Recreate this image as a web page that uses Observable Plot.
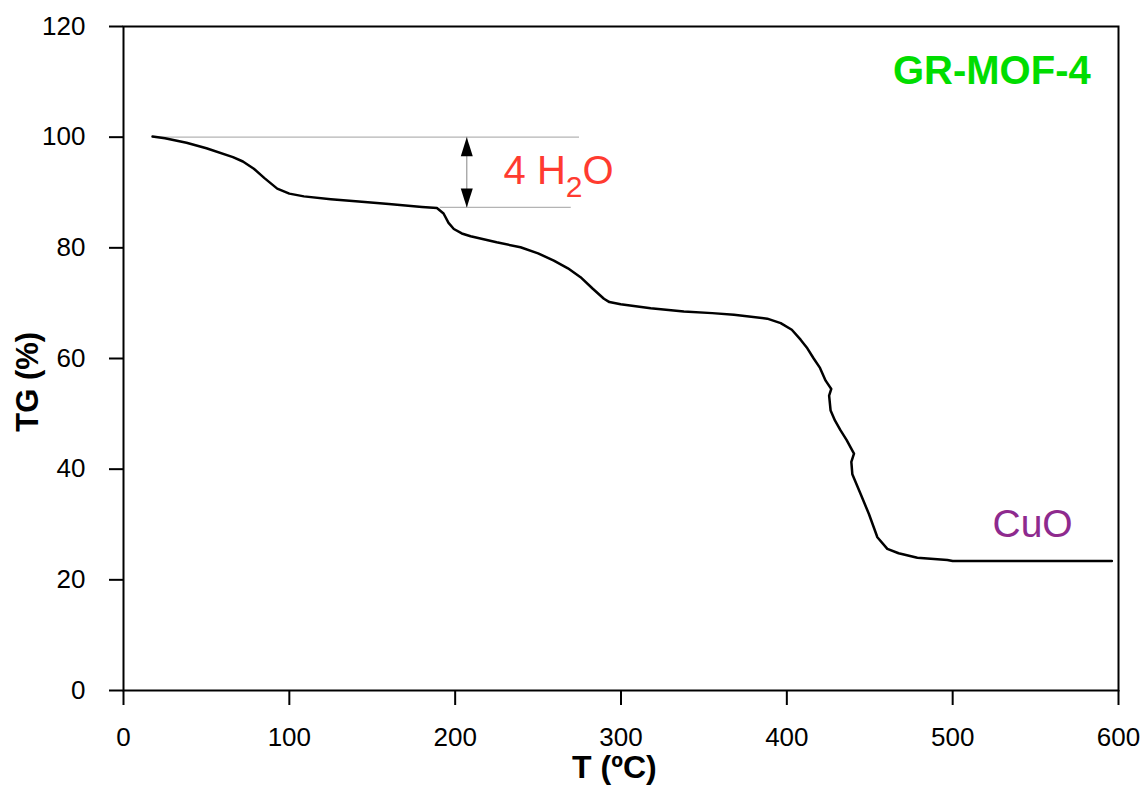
<!DOCTYPE html>
<html>
<head>
<meta charset="utf-8">
<script src="https://cdn.jsdelivr.net/npm/d3@7"></script>
<script src="https://cdn.jsdelivr.net/npm/@observablehq/plot@0.6"></script>
<style>
  html, body { margin: 0; padding: 0; background: white; }
</style>
</head>
<body>
<div id="chart"></div>
<script>
// Temperature (°C) and TG (%)
const temperature = [17.5, 25, 38, 50, 66, 72, 78.6, 85, 92.7, 100, 108.8, 125, 140, 160, 180, 189, 193, 196, 199.2, 204, 209.3, 225, 239.4, 250, 259.5, 268, 275.6, 283, 289.7, 293, 299.8, 317.9, 337.9, 355, 368.1, 388.2, 396.3, 403, 408.3, 412, 416.2, 420, 423.4, 426.8, 425.5, 426.4, 429, 432.4, 436, 440.5, 438.9, 439.5, 444.5, 449.5, 454.6, 460.6, 467.4, 478.7, 496.8, 500, 596];
const tgPercent   = [100.1, 99.8, 99.0, 98.0, 96.4, 95.6, 94.3, 92.6, 90.7, 89.8, 89.3, 88.8, 88.4, 87.9, 87.4, 87.2, 86.2, 84.5, 83.4, 82.6, 82.1, 81.0, 80.1, 79.0, 77.7, 76.3, 74.7, 72.6, 70.8, 70.2, 69.8, 69.1, 68.5, 68.2, 67.9, 67.2, 66.4, 65.2, 63.4, 62.0, 60.0, 58.3, 56.0, 54.5, 53.3, 50.6, 48.8, 47.0, 45.3, 42.8, 41.3, 39.1, 35.5, 31.9, 27.7, 25.6, 24.8, 24.0, 23.6, 23.4, 23.4];

const xTicks = [0, 100, 200, 300, 400, 500, 600];
const yTicks = [0, 20, 40, 60, 80, 100, 120];

// water-loss reference lines
const refY  = [100, 87.3];
const refX1 = [17.5, 191];
const refX2 = [275, 270];
const arrowT = 207;

const xTitle = "T (ºC)";
const yTitle = "TG (%)";
const sampleName = "GR-MOF-4";
const waterLabel = "4 H2O";
const residueLabel = "CuO";

const curve = temperature.map((t, i) => ({t, tg: tgPercent[i]}));
const refLines = refY.map((y, i) => ({y, x1: refX1[i], x2: refX2[i]}));
const arrowShaft = [{x: arrowT, y1: refY[0], y2: refY[1]}];
const arrowHeads = [{x: arrowT, y: refY[0], rot: 0}, {x: arrowT, y: refY[1], rot: 180}];

const font = "'Liberation Sans', Arial, Helvetica, sans-serif";

const chart = Plot.plot({
  width: 1141,
  height: 787,
  marginLeft: 123,
  marginRight: 23,
  marginTop: 26,
  marginBottom: 97,
  style: {fontFamily: font, background: "white", color: "black", overflow: "visible"},
  x: {domain: [0, 600]},
  y: {domain: [0, 120]},
  marks: [
    Plot.ruleY(refLines, {y: "y", x1: "x1", x2: "x2", stroke: "#b4b4b4", strokeWidth: 1.2}),
    Plot.ruleX(arrowShaft, {x: "x", y1: "y1", y2: "y2", stroke: "#9a9a9a", strokeWidth: 1.2}),
    Plot.vector(arrowHeads, {x: "x", y: "y", rotate: "rot", length: 19, r: 6, shape: "spike", anchor: "end", fill: "black", stroke: "none"}),
    Plot.line(curve, {x: "t", y: "tg", stroke: "black", strokeWidth: 2.5}),
    Plot.frame({stroke: "black", strokeWidth: 2}),
    Plot.axisX({ticks: xTicks, tickSize: 15, tickPadding: 22, fontSize: 26, strokeWidth: 2, label: null}),
    Plot.axisY({ticks: yTicks, tickSize: 14, tickPadding: 24, fontSize: 26, strokeWidth: 2, label: null}),
    Plot.text([{label: xTitle, x: 296, y: -15.9}], {x: "x", y: "y", text: "label", lineAnchor: "bottom", fontSize: 32, fontWeight: "bold"}),
    Plot.text([{label: yTitle, x: -51.3, y: 55.8}], {x: "x", y: "y", text: "label", lineAnchor: "bottom", rotate: -90, fontSize: 31, fontWeight: "bold"}),
    Plot.text([{label: sampleName, x: 464, y: 109.6}], {x: "x", y: "y", text: "label", textAnchor: "start", lineAnchor: "bottom", fontSize: 40, fontWeight: "bold", fill: "#00dd00"}),
    Plot.text([{label: waterLabel, x: 229.2, y: 91.45}], {x: "x", y: "y", text: "label", textAnchor: "start", lineAnchor: "bottom", fontSize: 40, fill: "#ff3b30"}),
    Plot.text([{label: residueLabel, x: 524, y: 27.7}], {x: "x", y: "y", text: "label", textAnchor: "start", lineAnchor: "bottom", fontSize: 39, fill: "#8e2a8e"})
  ]
});

document.getElementById("chart").appendChild(chart);

// render the 2 of H2O as a subscript
d3.select(chart).selectAll("text").each(function() {
  if (this.textContent === waterLabel) {
    const t = d3.select(this);
    t.text(null);
    t.append("tspan").text("4 H");
    t.append("tspan").attr("font-size", 30).attr("dy", 13).text("2");
    t.append("tspan").attr("dy", -13).text("O");
  }
});
</script>
</body>
</html>
